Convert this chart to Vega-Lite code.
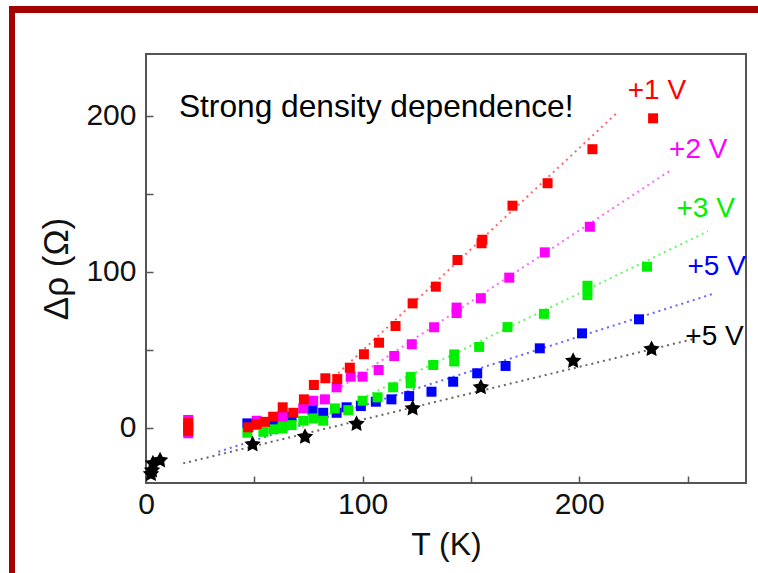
{
  "$schema": "https://vega.github.io/schema/vega-lite/v6.json",
  "padding": {"left": 9, "top": 6, "right": 0, "bottom": 0},
  "background": "white",
  "config": {
    "view": {"stroke": "#555555", "strokeWidth": 2},
    "font": "Liberation Sans"
  },
  "columns": 3,
  "spacing": 0,
  "bounds": "flush",
  "align": "each",
  "datasets": {
    "points": [
      {"T": 46.8, "rho": 2.8, "s": "5V"}, {"T": 51.0, "rho": 2.0, "s": "5V"}, {"T": 58.8, "rho": 3.8, "s": "5V"},
      {"T": 67.2, "rho": 7.1, "s": "5V"}, {"T": 76.9, "rho": 11.3, "s": "5V"}, {"T": 81.8, "rho": 9.6, "s": "5V"},
      {"T": 88.0, "rho": 9.6, "s": "5V"}, {"T": 92.6, "rho": 13.1, "s": "5V"}, {"T": 99.2, "rho": 13.9, "s": "5V"},
      {"T": 106.1, "rho": 16.7, "s": "5V"}, {"T": 113.3, "rho": 18.2, "s": "5V"}, {"T": 121.5, "rho": 20.3, "s": "5V"},
      {"T": 131.8, "rho": 23.1, "s": "5V"}, {"T": 141.8, "rho": 29.5, "s": "5V"}, {"T": 152.9, "rho": 34.9, "s": "5V"},
      {"T": 166.0, "rho": 39.6, "s": "5V"}, {"T": 181.8, "rho": 50.9, "s": "5V"}, {"T": 201.3, "rho": 60.5, "s": "5V"},
      {"T": 227.6, "rho": 69.5, "s": "5V"},
      {"T": 46.8, "rho": -3.2, "s": "3V"}, {"T": 54.2, "rho": -2.6, "s": "3V"}, {"T": 58.8, "rho": -1.0, "s": "3V"},
      {"T": 63.1, "rho": -0.5, "s": "3V"}, {"T": 63.1, "rho": 3.0, "s": "3V"}, {"T": 67.2, "rho": 1.7, "s": "3V"},
      {"T": 72.6, "rho": 4.5, "s": "3V"}, {"T": 77.2, "rho": 6.0, "s": "3V"}, {"T": 81.8, "rho": 4.5, "s": "3V"},
      {"T": 87.2, "rho": 12.4, "s": "3V"}, {"T": 93.4, "rho": 11.3, "s": "3V"}, {"T": 100.0, "rho": 17.3, "s": "3V"},
      {"T": 106.9, "rho": 19.5, "s": "3V"}, {"T": 114.1, "rho": 25.9, "s": "3V"}, {"T": 122.2, "rho": 28.5, "s": "3V"},
      {"T": 122.2, "rho": 32.5, "s": "3V"}, {"T": 132.6, "rho": 40.2, "s": "3V"}, {"T": 142.3, "rho": 42.5, "s": "3V"},
      {"T": 142.3, "rho": 47.0, "s": "3V"}, {"T": 153.8, "rho": 51.8, "s": "3V"}, {"T": 166.9, "rho": 64.5, "s": "3V"},
      {"T": 183.7, "rho": 73.0, "s": "3V"}, {"T": 203.8, "rho": 85.0, "s": "3V"}, {"T": 203.8, "rho": 91.0, "s": "3V"},
      {"T": 231.3, "rho": 103.2, "s": "3V"},
      {"T": 19.5, "rho": 5.0, "s": "2V"}, {"T": 19.5, "rho": -3.5, "s": "2V"}, {"T": 51.1, "rho": 4.5, "s": "2V"},
      {"T": 63.1, "rho": 7.1, "s": "2V"}, {"T": 72.6, "rho": 12.4, "s": "2V"}, {"T": 77.2, "rho": 17.3, "s": "2V"},
      {"T": 82.6, "rho": 18.2, "s": "2V"}, {"T": 88.0, "rho": 25.9, "s": "2V"}, {"T": 94.5, "rho": 32.7, "s": "2V"},
      {"T": 100.0, "rho": 32.7, "s": "2V"}, {"T": 107.4, "rho": 37.0, "s": "2V"}, {"T": 114.6, "rho": 46.0, "s": "2V"},
      {"T": 122.7, "rho": 53.5, "s": "2V"}, {"T": 133.0, "rho": 64.4, "s": "2V"}, {"T": 143.4, "rho": 73.5, "s": "2V"},
      {"T": 143.4, "rho": 77.0, "s": "2V"}, {"T": 154.6, "rho": 83.0, "s": "2V"}, {"T": 167.7, "rho": 96.2, "s": "2V"},
      {"T": 184.1, "rho": 112.4, "s": "2V"}, {"T": 204.9, "rho": 128.8, "s": "2V"},
      {"T": 19.5, "rho": 3.0, "s": "1V"}, {"T": 19.5, "rho": 0.5, "s": "1V"}, {"T": 19.5, "rho": -2.0, "s": "1V"},
      {"T": 47.2, "rho": 0.3, "s": "1V"}, {"T": 51.1, "rho": 2.4, "s": "1V"}, {"T": 54.9, "rho": 3.8, "s": "1V"},
      {"T": 58.7, "rho": 7.1, "s": "1V"}, {"T": 63.1, "rho": 13.1, "s": "1V"}, {"T": 68.0, "rho": 9.6, "s": "1V"},
      {"T": 72.9, "rho": 18.2, "s": "1V"}, {"T": 77.5, "rho": 27.4, "s": "1V"}, {"T": 82.8, "rho": 31.7, "s": "1V"},
      {"T": 88.3, "rho": 31.2, "s": "1V"}, {"T": 94.1, "rho": 38.5, "s": "1V"}, {"T": 100.6, "rho": 47.1, "s": "1V"},
      {"T": 107.6, "rho": 54.5, "s": "1V"}, {"T": 115.2, "rho": 65.2, "s": "1V"}, {"T": 123.1, "rho": 79.7, "s": "1V"},
      {"T": 133.8, "rho": 90.4, "s": "1V"}, {"T": 143.8, "rho": 107.5, "s": "1V"}, {"T": 154.9, "rho": 118.2, "s": "1V"},
      {"T": 155.3, "rho": 120.5, "s": "1V"}, {"T": 169.2, "rho": 142.3, "s": "1V"}, {"T": 185.4, "rho": 156.7, "s": "1V"},
      {"T": 206.1, "rho": 178.5, "s": "1V"}, {"T": 234.1, "rho": 198.3, "s": "1V"},
      {"T": 2.3, "rho": -29.7, "s": "5Vb"}, {"T": 2.8, "rho": -27.4, "s": "5Vb"}, {"T": 3.2, "rho": -22.9, "s": "5Vb"},
      {"T": 6.5, "rho": -20.9, "s": "5Vb"}, {"T": 49.2, "rho": -10.7, "s": "5Vb"}, {"T": 73.4, "rho": -5.8, "s": "5Vb"},
      {"T": 97.2, "rho": 2.4, "s": "5Vb"}, {"T": 123.1, "rho": 12.4, "s": "5Vb"}, {"T": 154.6, "rho": 25.9, "s": "5Vb"},
      {"T": 197.2, "rho": 42.8, "s": "5Vb"}, {"T": 233.4, "rho": 50.4, "s": "5Vb"}
    ],
    "fits": [
      {"T": 88.7, "rho": 34.9, "s": "1V"}, {"T": 217.2, "rho": 201.5, "s": "1V"},
      {"T": 88.0, "rho": 24.2, "s": "2V"}, {"T": 242.9, "rho": 165.6, "s": "2V"},
      {"T": 72.0, "rho": 0.3, "s": "3V"}, {"T": 259.5, "rho": 126.0, "s": "3V"},
      {"T": 33.4, "rho": -15.4, "s": "5V"}, {"T": 261.5, "rho": 85.7, "s": "5V"},
      {"T": 17.2, "rho": -22.8, "s": "5Vb"}, {"T": 254.1, "rho": 57.3, "s": "5Vb"}
    ],
    "labels": [
      {"T": 222.4, "rho": 210.5, "s": "1V", "text": "+1 V"},
      {"T": 241.5, "rho": 172.7, "s": "2V", "text": "+2 V"},
      {"T": 244.9, "rho": 135.3, "s": "3V", "text": "+3 V"},
      {"T": 250.0, "rho": 97.9, "s": "5V", "text": "+5 V"},
      {"T": 249.0, "rho": 53.0, "s": "5Vb", "text": "+5 V"}
    ],
    "note": [
      {"T": 15.2, "rho": 199, "text": "Strong density dependence!"}
    ],
    "blank": [{}],
    "none": []
  },
  "concat": [
    {
      "width": 6, "height": 48,
      "view": {"fill": "#A30000", "stroke": null},
      "data": {"name": "blank"},
      "mark": {"type": "rect", "color": "#A30000"},
      "encoding": {}
    },
    {
      "width": 131, "height": 7,
      "view": {"fill": "#A30000", "stroke": null},
      "data": {"name": "blank"},
      "mark": {"type": "rect", "color": "#A30000"},
      "encoding": {}
    },
    {
      "width": 612, "height": 7,
      "view": {"fill": "#A30000", "stroke": null},
      "data": {"name": "blank"},
      "mark": {"type": "rect", "color": "#A30000"},
      "encoding": {}
    },
    {
      "width": 6, "height": 519,
      "view": {"fill": "#A30000", "stroke": null},
      "data": {"name": "blank"},
      "mark": {"type": "rect", "color": "#A30000"},
      "encoding": {}
    },
    {
      "width": 131, "height": 10,
      "view": {"stroke": null},
      "data": {"name": "none"},
      "mark": {"type": "point"},
      "encoding": {}
    },
    {
      "width": 600,
      "height": 429,
      "encoding": {
        "x": {
          "field": "T", "type": "quantitative",
          "scale": {"domain": [0, 277], "nice": false, "zero": false},
          "axis": {
            "title": "T (K)", "values": [0, 50, 100, 150, 200, 250],
            "labelExpr": "datum.value % 100 === 0 ? datum.label : ''",
            "domain": false, "grid": false, "tickSize": -7, "tickColor": "#555555", "tickWidth": 1.5,
            "labelFontSize": 30, "labelColor": "#111111", "labelPadding": 13, "labelFlush": false,
            "titleFontSize": 32, "titleFontWeight": "normal", "titleColor": "#111111", "titlePadding": 10
          }
        },
        "y": {
          "field": "rho", "type": "quantitative",
          "scale": {"domain": [-35.4, 239.5], "nice": false, "zero": false},
          "axis": {
            "title": "Δρ (Ω)", "values": [0, 50, 100, 150, 200],
            "labelExpr": "datum.value % 100 === 0 ? datum.label : ''",
            "domain": false, "grid": false, "tickSize": -7, "tickColor": "#555555", "tickWidth": 1.5,
            "labelFontSize": 30, "labelColor": "#111111", "labelPadding": 17, "labelFlush": false,
            "titleFontSize": 35, "titleFontWeight": "normal", "titleColor": "#111111", "titlePadding": 11
          }
        },
        "color": {
          "field": "s", "type": "nominal", "legend": null,
          "scale": {"domain": ["1V", "2V", "3V", "5V", "5Vb"], "range": ["#FF0000", "#FF00FF", "#00F000", "#0000FF", "#000000"]}
        }
      },
      "layer": [
        {
          "data": {"name": "fits"},
          "mark": {"type": "line", "strokeDash": [2, 4], "strokeWidth": 2, "opacity": 0.6},
          "encoding": {"detail": {"field": "s"}}
        },
        {
          "data": {"name": "points"},
          "transform": [{"filter": "datum.s !== '5Vb'"}],
          "mark": {"type": "square", "filled": true, "size": 100, "opacity": 1}
        },
        {
          "data": {"name": "points"},
          "transform": [{"filter": "datum.s === '5Vb'"}],
          "mark": {"type": "point", "filled": true, "size": 300, "opacity": 1, "shape": "M0,-1L0.294,-0.405L0.951,-0.309L0.476,0.155L0.588,0.809L0,0.5L-0.588,0.809L-0.476,0.155L-0.951,-0.309L-0.294,-0.405Z"}
        },
        {
          "data": {"name": "labels"},
          "mark": {"type": "text", "align": "left", "baseline": "alphabetic", "fontSize": 28},
          "encoding": {"text": {"field": "text"}}
        },
        {
          "data": {"name": "note"},
          "mark": {"type": "text", "align": "left", "baseline": "alphabetic", "fontSize": 31.7, "color": "#000000"},
          "encoding": {"text": {"field": "text"}, "color": {"value": "#000000"}}
        }
      ]
    }
  ]
}
